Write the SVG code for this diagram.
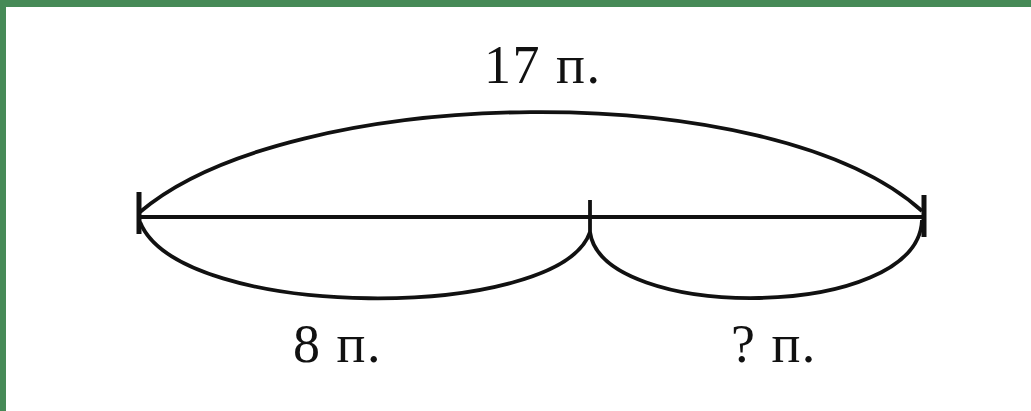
<svg xmlns="http://www.w3.org/2000/svg" width="1031" height="411" viewBox="0 0 1031 411">
  <style>
    .ln { fill: none; stroke: #111; stroke-width: 3.8; stroke-linecap: butt; }
    .tk { fill: none; stroke: #111; stroke-width: 5; }
    .lbl { font-family: "Liberation Serif", "Times New Roman", serif; font-size: 54px; letter-spacing: 1.5px; fill: #111; }
  </style>
  <rect x="0" y="0" width="1031" height="411" fill="#ffffff"/>
  <rect x="0" y="0" width="1031" height="7" fill="#468a57"/>
  <rect x="0" y="0" width="6" height="411" fill="#468a57"/>
  <g id="segment">
    <line class="ln" x1="139" y1="217" x2="924" y2="217"/>
    <line class="tk" x1="139" y1="192" x2="139" y2="234"/>
    <line class="tk" x1="924" y1="195" x2="924" y2="237"/>
    <line class="ln" x1="590" y1="200" x2="590" y2="232"/>
  </g>
  <g id="connectors">
    <path class="ln" d="M140,212 C290,84 770,74 922,211"/>
    <path class="ln" d="M140,222 C180,322 560,322 590,232"/>
    <path class="ln" d="M590,232 C602,322 918,322 922,220"/>
  </g>
  <g id="label-total"><text class="lbl" x="484" y="83">17 п.</text></g>
  <g id="label-left"><text class="lbl" x="293" y="362">8 п.</text></g>
  <g id="label-right"><text class="lbl" x="731" y="362">? п.</text></g>
</svg>
